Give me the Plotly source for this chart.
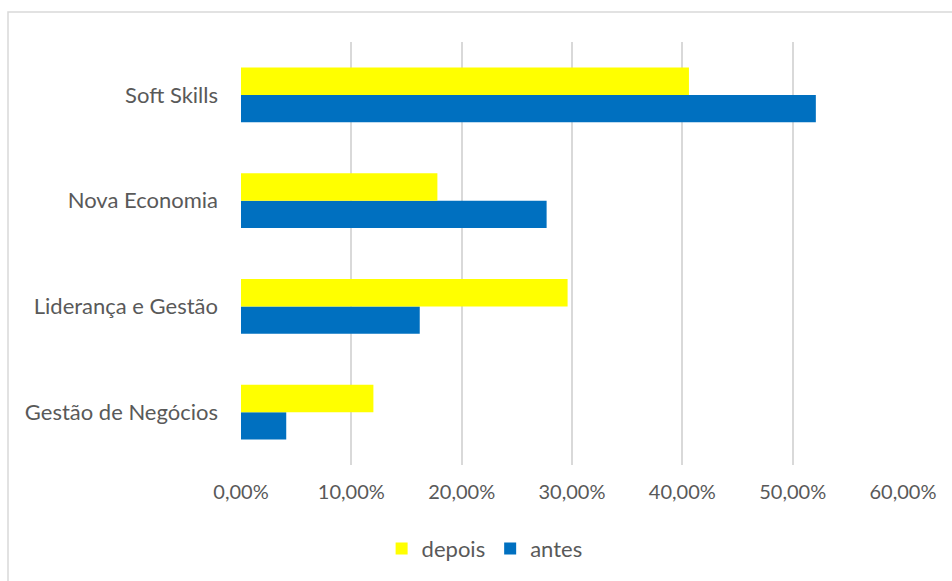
import plotly.graph_objects as go

categories = ["Gestão de Negócios", "Liderança e Gestão", "Nova Economia", "Soft Skills"]
antes = [0.041, 0.162, 0.277, 0.521]
depois = [0.120, 0.296, 0.178, 0.406]
x_ticks = [0, 0.1, 0.2, 0.3, 0.4, 0.5, 0.6]

W, H = 952, 581
L, R, T, B = 241, 49, 42, 115

FONT = "Lato, 'Open Sans', sans-serif"
TXT = "#595959"

fig = go.Figure()
fig.add_trace(go.Bar(y=categories, x=antes, name="antes", orientation="h",
                     marker=dict(color="#0070C0", line=dict(width=0))))
fig.add_trace(go.Bar(y=categories, x=depois, name="depois", orientation="h",
                     marker=dict(color="#FFFF00", line=dict(width=0))))

pw = W - L - R
ph = H - T - B
# chart-area frame (only top and left edges fall inside the page)
x0 = (8 - L) / pw
y1 = (H - B - 12) / ph
fig.add_shape(type="rect", xref="paper", yref="paper",
              x0=x0, x1=(W + 20 - L) / pw, y0=-(B + 20) / ph, y1=y1,
              line=dict(color="#D9D9D9", width=1.5), layer="below")

fig.update_layout(
    width=W, height=H,
    margin=dict(l=L, r=R, t=T, b=B, pad=0),
    paper_bgcolor="white", plot_bgcolor="white",
    barmode="group", bargap=0.48, bargroupgap=0,
    separators=",.",
    font=dict(family=FONT, size=20, color=TXT),
    legend=dict(orientation="h", traceorder="reversed", x=0.368, xanchor="center",
                y=-0.195, yanchor="middle", font=dict(size=22, color=TXT),
                itemwidth=30),
    showlegend=True,
    xaxis=dict(range=[0, 0.6], tickvals=x_ticks, tickformat=".2%",
               showgrid=True, gridcolor="#D9D9D9", gridwidth=1.5,
               zeroline=False, showline=False, ticks="",
               ticklabelstandoff=13, tickfont=dict(size=20, color=TXT)),
    yaxis=dict(showgrid=False, zeroline=False, showline=False, ticks="",
               ticklabelstandoff=22, tickfont=dict(size=22, color=TXT)),
)

fig.write_html("out.html")
